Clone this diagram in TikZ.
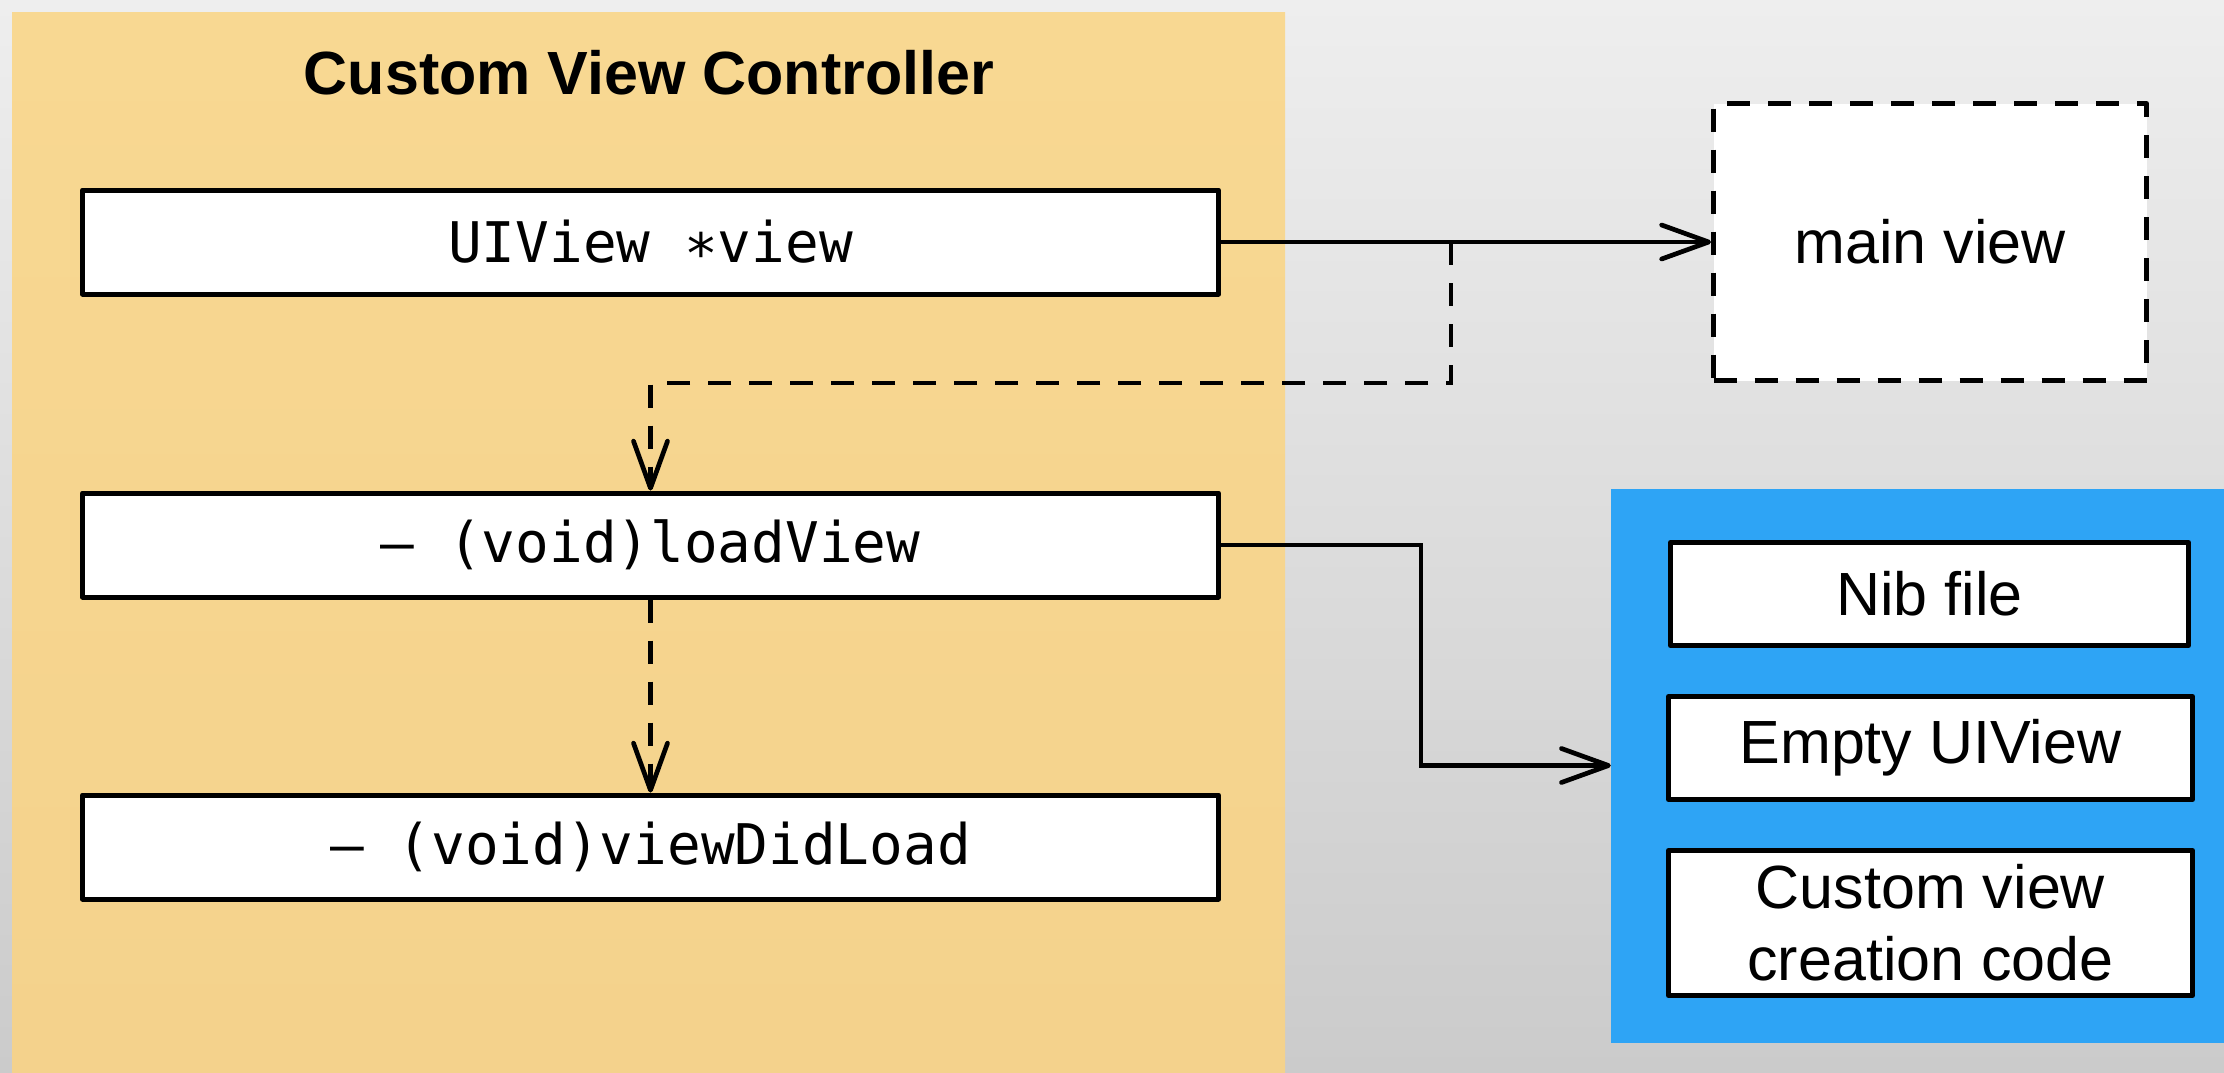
\documentclass[tikz,border=0pt]{standalone}
\usepackage{fontspec}
\setmainfont{Liberation Sans}
\newfontfamily\codefont{DejaVu Sans Mono}
\usetikzlibrary{arrows.meta}
\definecolor{bgtop}{RGB}{238,238,238}
\definecolor{bgbot}{RGB}{203,203,203}
\definecolor{orangetop}{RGB}{248,216,146}
\definecolor{orangebot}{RGB}{244,210,140}
\definecolor{bluep}{RGB}{46,164,245}
\begin{document}
\begin{tikzpicture}[x=1pt,y=-1pt,
  codebox/.style={draw=black, line width=5pt, line join=round, fill=white, minimum width=1136pt,
    minimum height=104pt, inner sep=0pt, font=\codefont\fontsize{56pt}{67pt}\selectfont},
  textbox/.style={draw=black, line width=5pt, line join=round, fill=white, inner sep=0pt,
    font=\fontsize{61pt}{72pt}\selectfont, align=center},
  conn/.style={line width=4.7pt, -{Straight Barb[length=47pt,width=34pt,round]}},
  dashline/.style={dash pattern=on 23pt off 18pt}
]
\useasboundingbox (0,0) rectangle (2224,1072);
\shade[top color=bgtop, bottom color=bgbot] (0,0) rectangle (2224,1072);

% containers
\node[top color=orangetop, bottom color=orangebot, minimum width=1273pt, minimum height=1060pt,
      inner sep=0pt, anchor=north west] (ctrl) at (12,12) {};
\node[fill=bluep, minimum width=613pt, minimum height=554pt, inner sep=0pt] (blue) at (1917.5,765.5) {};

% title
\node[anchor=base, font=\bfseries\fontsize{61pt}{73pt}\selectfont] (title) at (649,94) {Custom View Controller};

% code boxes
\node[codebox] (uiview) at (650.5,242) {UIView ∗view};
\node[codebox] (load) at (650.5,545) {– (void)loadView};
\node[codebox] (didload) at (650.5,847) {– (void)viewDidLoad};

% main view
\node[textbox, dashline, minimum width=433pt, minimum height=277pt] (main) at (1930,242) {main view};

% options
\node[textbox, minimum width=518pt, minimum height=103pt] (nib) at (1929.5,594) {Nib file};
\node[textbox, minimum width=524pt, minimum height=103pt] (empty) at (1930.5,748) {Empty UIView};
\node[textbox, minimum width=524pt, minimum height=145pt] (custom) at (1930.5,923) {Custom view\\creation code};

% connectors
\draw[conn] (uiview.east) -- (main.west);
\coordinate (br) at (1451,242);
\coordinate (bd) at (1451,383);
\draw[conn, dashline] (br) -- (bd) -| (load.north);
\draw[conn, dashline] (load.south) -- (didload.north);
\draw[conn] (load.east) -- ++(200,0) |- (blue.west);
\end{tikzpicture}
\end{document}
